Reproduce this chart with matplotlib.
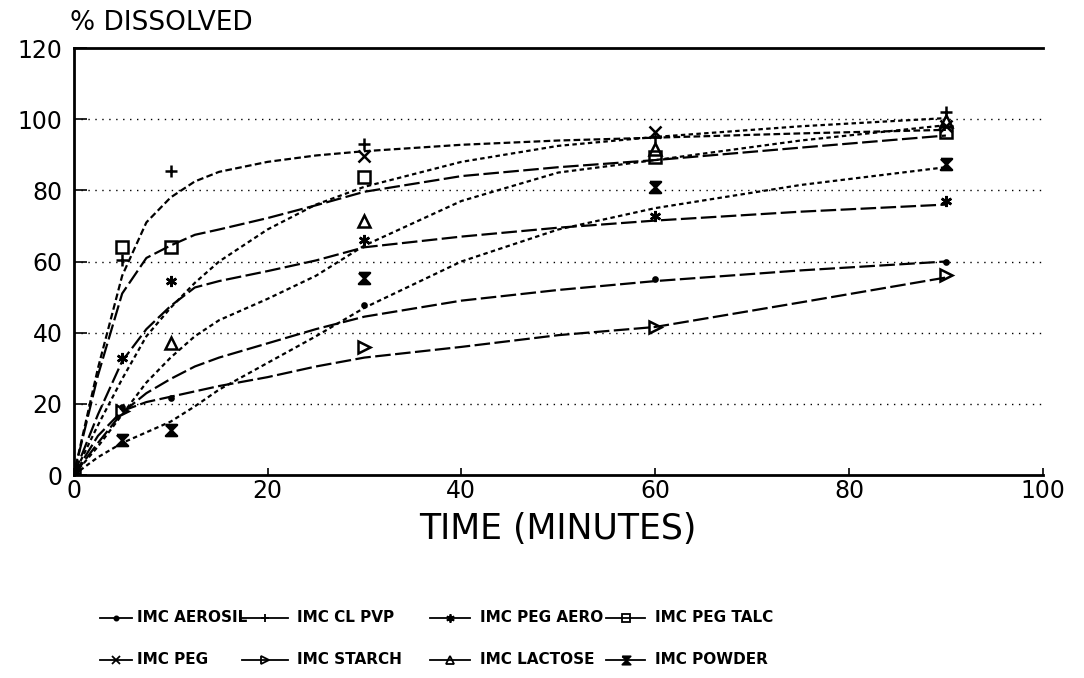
import numpy as np
import matplotlib
matplotlib.use("Agg")
import matplotlib.pyplot as plt
from matplotlib.lines import Line2D
from matplotlib.path import Path

plt.rcParams['font.family'] = ['DejaVu Sans']

# measured points (minutes, % dissolved)
aerosil_t = [0, 5, 10, 30, 60, 90]
aerosil_v = [0, 19, 21.7, 47.9, 55, 60]
clpvp_t = [0, 5, 10, 30, 60, 90]
clpvp_v = [0, 60.5, 85.5, 93, 95, 102]
pegaero_t = [0, 5, 10, 30, 60, 90]
pegaero_v = [0, 33, 54.5, 66, 72.7, 77]
pegtalc_t = [0, 5, 10, 30, 60, 90]
pegtalc_v = [0, 64, 64.2, 83.7, 89.3, 96.3]
peg_t = [0, 30, 60, 90]
peg_v = [0, 89.6, 96.3, 98]
starch_t = [0, 5, 30, 60, 90]
starch_v = [0, 18, 36, 41.7, 56.3]
lactose_t = [0, 10, 30, 60, 90]
lactose_v = [0, 37.2, 71.3, 91.5, 99.5]
powder_t = [0, 5, 10, 30, 60, 90]
powder_v = [0, 9.9, 12.7, 55.5, 81, 87.3]

# fitted curves
fit_t = [0, 2.5, 5, 7.5, 10, 12.5, 15, 20, 25, 30, 40, 50, 60, 75, 90]
aerosil_fit = [0, 9, 17.5, 23, 27, 30.5, 33, 37, 41, 44.5, 49, 52, 54.5, 57.5, 60]
clpvp_fit = [0, 30, 56, 71, 78, 82.5, 85.2, 88, 89.8, 91, 92.8, 94, 94.8, 96, 97]
pegaero_fit = [0, 17, 32, 41, 47.5, 52.7, 54.5, 57.3, 60.3, 64, 67, 69.5, 71.5, 74, 76]
pegtalc_fit = [0, 28, 51, 61, 64.5, 67.5, 69, 72.2, 75.8, 79.6, 84, 86.5, 88.5, 92, 95.4]
peg_fit = [0, 14, 27, 39, 47, 54, 60, 69, 76, 81, 88, 92.5, 95, 98, 100.3]
starch_fit = [0, 11, 18, 20.5, 22, 23.5, 25, 27.5, 30.5, 33, 36, 39.3, 41.6, 48.5, 55.5]
lactose_fit = [0, 8, 17, 26, 33, 39, 43.5, 49.5, 56, 64.5, 77, 85, 88.5, 94, 98.3]
powder_fit = [0, 5, 9, 12, 15, 19.3, 24, 31.5, 39, 47, 60, 69, 75, 81.5, 86.5]

hourglass = Path([(-1, 1), (1, 1), (-1, -1), (1, -1), (-1, 1)])

series = [
    ("IMC AEROSIL", aerosil_t, aerosil_v, aerosil_fit, '.', (0, (7, 2))),
    ("IMC CL PVP", clpvp_t, clpvp_v, clpvp_fit, '+', (0, (3, 1.5))),
    ("IMC PEG AERO", pegaero_t, pegaero_v, pegaero_fit, (6, 2, 0), (0, (7, 2))),
    ("IMC PEG TALC", pegtalc_t, pegtalc_v, pegtalc_fit, 's', (0, (7, 2))),
    ("IMC PEG", peg_t, peg_v, peg_fit, 'x', (0, (2, 1.5))),
    ("IMC STARCH", starch_t, starch_v, starch_fit, '>', (0, (7, 2))),
    ("IMC LACTOSE", lactose_t, lactose_v, lactose_fit, '^', (0, (2, 1.5))),
    ("IMC POWDER", powder_t, powder_v, powder_fit, hourglass, (0, (2, 1.5))),
]
filled = {"IMC AEROSIL", "IMC POWDER", "IMC PEG AERO"}

W, H = 1084, 678
fig = plt.figure(figsize=(W / 100, H / 100), dpi=100)
ax = fig.add_axes([0.068, 0.2994, 0.894, 0.6298])

for y in [20, 40, 60, 80, 100]:
    ax.axhline(y, color='black', lw=1.0, ls=(0, (1, 4)), zorder=1)

markers = {}
for name, t, v, fit, mk, ls in series:
    ax.plot(fit_t, fit, color='black', lw=1.6, ls=ls, zorder=2)
    fc = 'black' if name in filled else 'none'
    ms = 6 if name == "IMC AEROSIL" else 8
    ax.plot(t, v, ls='none', marker=mk, ms=ms, mec='black', mfc=fc, mew=1.8, zorder=3)
    markers[name] = (mk, fc)

ax.set_xlim(0, 100)
ax.set_ylim(0, 120)
ax.set_xticks([0, 20, 40, 60, 80, 100])
ax.set_yticks([0, 20, 40, 60, 80, 100, 120])
ax.tick_params(axis='both', direction='in', labelsize=17, width=1.2, color='black')
ax.tick_params(axis='y', length=9, pad=8)
ax.tick_params(axis='x', length=5, pad=3)
ax.spines['right'].set_visible(False)
for s in ['left', 'top', 'bottom']:
    ax.spines[s].set_linewidth(2)

ax.set_xlabel("TIME (MINUTES)", fontsize=25, labelpad=6)
fig.text(70 / W, 1 - 23 / H, "% DISSOLVED", fontsize=19, ha='left', va='center')

# legend laid out in two rows like the original
rows = [["IMC AEROSIL", "IMC CL PVP", "IMC PEG AERO", "IMC PEG TALC"],
        ["IMC PEG", "IMC STARCH", "IMC LACTOSE", "IMC POWDER"]]
row_y = [618, 660]
handle_x = [(100, 132), (242, 288), (430, 470), (606, 645)]
text_x = [137, 297, 480, 655]
for r, names in enumerate(rows):
    yf = 1 - row_y[r] / H
    for c, name in enumerate(names):
        x0, x1 = handle_x[c]
        mk, fc = markers[name]
        fig.add_artist(Line2D([x0 / W, x1 / W], [yf, yf], color='black', lw=1.3,
                              transform=fig.transFigure))
        fig.add_artist(Line2D([(x0 + x1) / 2 / W], [yf], ls='none', marker=mk, ms=6,
                              mec='black', mfc=fc, mew=1.3, transform=fig.transFigure))
        fig.text(text_x[c] / W, yf, name, fontsize=11, fontweight='bold',
                 ha='left', va='center')

fig.savefig("out.png", dpi=100, facecolor='white')
